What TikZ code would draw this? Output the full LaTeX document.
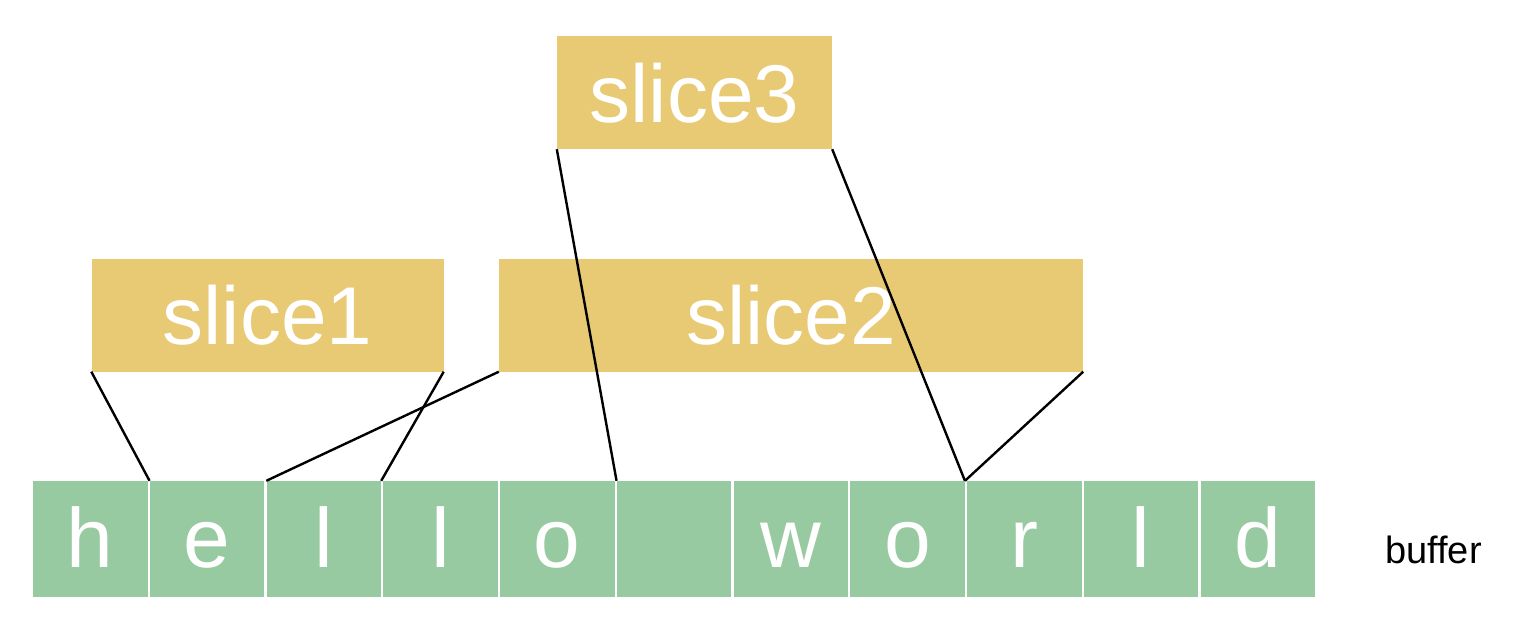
\documentclass[tikz,border=0pt]{standalone}
\usepackage{fontspec}
\setmainfont{Liberation Sans}
\definecolor{slicegold}{HTML}{E8C974}
\definecolor{cellgreen}{HTML}{98CAA1}
\begin{document}
\begin{tikzpicture}[x=1pt,y=-1pt,
  cellbox/.style={fill=cellgreen, draw=none, minimum width=114.5pt, minimum height=116pt,
    inner sep=0pt, text=white, font=\fontsize{84}{84}\selectfont, text height=61pt, text depth=5pt},
  slicebox/.style={fill=slicegold, draw=none, minimum height=113pt, inner sep=0pt,
    text=white, font=\fontsize{82}{82}\selectfont, text height=60pt, text depth=1pt},
  link/.style={draw=black, line width=2.4pt}]
\useasboundingbox (0,0) rectangle (1520,630);
% buffer cells
\foreach \ch [count=\i] in {h,e,l,l,o,{},w,o,r,l,d} {
  \node[cellbox] (c\i) at ({33+116.75*(\i-1)+57.25},539) {\ch};
}
\node[anchor=base west, font=\fontsize{38}{38}\selectfont, inner sep=0pt] (buf) at (1385,563) {buffer};
% slices
\node[slicebox, minimum width=352pt] (s1) at (267.5,315) {slice1};
\node[slicebox, minimum width=584pt] (s2) at (791,315) {slice2};
\node[slicebox, minimum width=275pt] (s3) at (694.5,92.5) {slice3};
% connectors
\draw[link] (s1.south west) -- (c2.north west);
\draw[link] (s1.south east) -- (c3.north east);
\draw[link] (s2.south west) -- (c3.north west);
\draw[link] (s2.south east) -- (c8.north east);
\draw[link] (s3.south west) -- (c6.north west);
\draw[link] (s3.south east) -- (c8.north east);
\end{tikzpicture}
\end{document}
